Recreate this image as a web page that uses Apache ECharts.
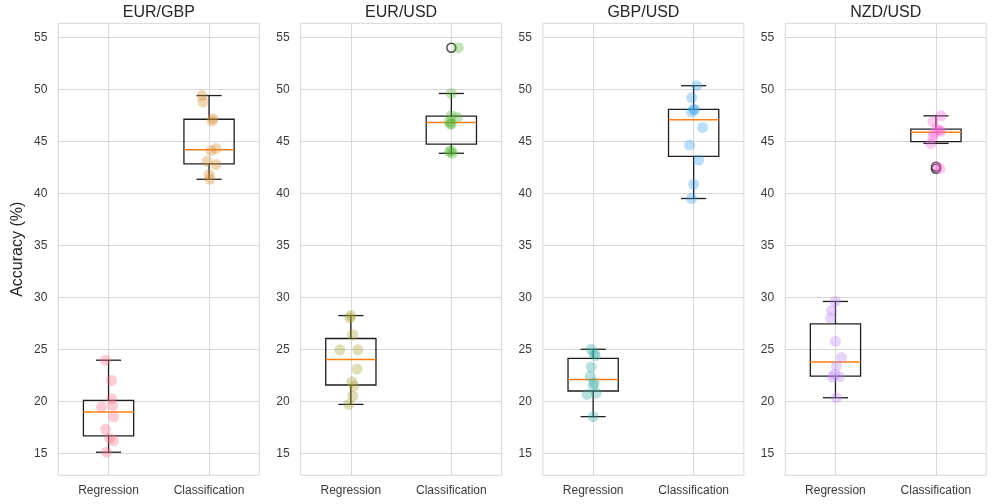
<!DOCTYPE html>
<html>
<head>
<meta charset="utf-8">
<script src="https://cdn.jsdelivr.net/npm/echarts@6/dist/echarts.min.js"></script>
<style>
  html, body { margin: 0; padding: 0; background: #ffffff; }
  #chart { width: 992px; height: 504px; }
</style>
</head>
<body>
<div id="chart"></div>
<script>
// Currency pairs (one panel each) and the two modelling approaches
const pairs = ['EUR/GBP', 'EUR/USD', 'GBP/USD', 'NZD/USD'];
const methods = ['Regression', 'Classification'];
const yTicks = [15, 20, 25, 30, 35, 40, 45, 50, 55];

// Per-fold directional accuracy (%)
const eurgbpRegression     = [15.1, 16.2, 16.45, 17.3, 18.5, 19.45, 19.6, 20.25, 22.0, 23.95];
const eurgbpClassification = [41.35, 41.8, 42.76, 43.08, 44.1, 44.3, 46.95, 47.18, 48.78, 49.4];
const eurusdRegression     = [19.7, 20.5, 21.46, 21.88, 23.1, 24.95, 24.95, 26.4, 28.0, 28.24];
const eurusdClassification = [43.85, 44.0, 44.1, 46.65, 46.7, 46.9, 47.3, 47.46, 49.6, 54.0];
const gbpusdRegression     = [18.52, 20.66, 20.8, 21.55, 21.78, 22.42, 23.3, 24.4, 24.6, 25.0];
const gbpusdClassification = [39.5, 40.87, 43.2, 44.64, 46.34, 47.8, 48.02, 48.1, 49.2, 50.35];
const nzdusdRegression     = [20.34, 22.3, 22.36, 22.58, 23.37, 24.2, 25.77, 28.0, 28.72, 29.6];
const nzdusdClassification = [42.35, 42.56, 44.8, 45.45, 45.76, 45.96, 46.05, 46.21, 46.9, 47.45];

// Horizontal strip-plot jitter of each fold's point
const eurgbpRegressionJitter     = [-0.02, 0.05, 0.01, -0.03, 0.05, -0.07, 0.04, 0.03, 0.03, -0.03];
const eurgbpClassificationJitter = [0.01, 0.0, 0.07, -0.02, 0.02, 0.07, 0.03, 0.04, -0.06, -0.07];
const eurusdRegressionJitter     = [-0.02, 0.02, 0.03, 0.01, 0.06, -0.11, 0.07, 0.02, -0.01, 0.0];
const eurusdClassificationJitter = [0.01, -0.02, 0.0, -0.01, 0.0, -0.02, 0.06, 0.0, 0.0, 0.07];
const gbpusdRegressionJitter     = [0.0, -0.06, 0.03, 0.0, 0.01, -0.03, -0.02, 0.02, 0.01, -0.02];
const gbpusdClassificationJitter = [-0.02, 0.0, 0.05, -0.04, 0.09, -0.02, 0.01, 0.0, -0.02, 0.03];
const nzdusdRegressionJitter     = [0.01, -0.03, 0.04, -0.01, 0.01, 0.06, 0.0, -0.05, -0.04, 0.0];
const nzdusdClassificationJitter = [0.04, 0.01, -0.05, -0.03, -0.02, 0.05, 0.03, 0.01, -0.03, 0.05];

const panelValues = [
  [eurgbpRegression, eurgbpClassification],
  [eurusdRegression, eurusdClassification],
  [gbpusdRegression, gbpusdClassification],
  [nzdusdRegression, nzdusdClassification]
];
const panelJitter = [
  [eurgbpRegressionJitter, eurgbpClassificationJitter],
  [eurusdRegressionJitter, eurusdClassificationJitter],
  [gbpusdRegressionJitter, gbpusdClassificationJitter],
  [nzdusdRegressionJitter, nzdusdClassificationJitter]
];

// husl palette, one hue per (pair, method)
const palette = ['#f77189', '#d58c32', '#a4a031', '#50b131', '#36ada4', '#3ba3ec', '#bb83f4', '#f564d4'];

// Linear-interpolated quantile on a sorted array
function quantile(s, p) {
  const h = (s.length - 1) * p;
  const i = Math.floor(h);
  const next = i + 1 < s.length ? s[i + 1] : s[i];
  return s[i] + (h - i) * (next - s[i]);
}

// Tukey box statistics: whiskers reach the furthest point within 1.5 IQR
function boxStats(values) {
  const s = values.slice().sort((a, b) => a - b);
  const q1 = quantile(s, 0.25), med = quantile(s, 0.5), q3 = quantile(s, 0.75);
  const iqr = q3 - q1;
  const loFence = q1 - 1.5 * iqr, hiFence = q3 + 1.5 * iqr;
  const inside = s.filter(v => v >= loFence && v <= hiFence);
  return {
    box: [inside[0], q1, med, q3, inside[inside.length - 1]],
    outliers: s.filter(v => v < loFence || v > hiFence)
  };
}

const FONT = '"Liberation Sans", Arial, sans-serif';
const TEXT = '#262626';
const TICK_TEXT = '#3a3a3a';
const GRIDLINE = '#d8d8d8';
const panelLeft = [58.3, 300.6, 542.9, 785.2];
const panelWidth = 201;
const panelTop = 23.3;
const panelHeight = 452;

function renderBox(params, api) {
  const x = api.value(0);
  const lw = api.value(1), q1 = api.value(2), md = api.value(3), q3 = api.value(4), hw = api.value(5);
  const tl = api.coord([x - 0.25, q3]);
  const br = api.coord([x + 0.25, q1]);
  const cx = api.coord([x, md])[0];
  const capL = api.coord([x - 0.125, lw])[0];
  const capR = api.coord([x + 0.125, lw])[0];
  const yLw = api.coord([x, lw])[1];
  const yHw = api.coord([x, hw])[1];
  const yMd = api.coord([x, md])[1];
  const edge = { stroke: '#1e1e1e', lineWidth: 1.3, fill: null };
  return {
    type: 'group',
    children: [
      { type: 'line', shape: { x1: cx, y1: yHw, x2: cx, y2: tl[1] }, style: edge },
      { type: 'line', shape: { x1: cx, y1: br[1], x2: cx, y2: yLw }, style: edge },
      { type: 'line', shape: { x1: capL, y1: yHw, x2: capR, y2: yHw }, style: edge },
      { type: 'line', shape: { x1: capL, y1: yLw, x2: capR, y2: yLw }, style: edge },
      { type: 'rect', shape: { x: tl[0], y: tl[1], width: br[0] - tl[0], height: br[1] - tl[1] }, style: edge },
      { type: 'line', shape: { x1: tl[0], y1: yMd, x2: br[0], y2: yMd }, style: { stroke: '#ff7f0e', lineWidth: 1.5 } }
    ]
  };
}

const grid = [], xAxis = [], yAxis = [], title = [], series = [];

pairs.forEach((pair, p) => {
  grid.push({
    left: panelLeft[p], top: panelTop, width: panelWidth, height: panelHeight,
    show: true, borderColor: GRIDLINE, borderWidth: 1, backgroundColor: '#ffffff'
  });
  title.push({
    text: pair,
    left: panelLeft[p] + panelWidth / 2,
    top: 5,
    textAlign: 'center',
    padding: 0,
    textStyle: { fontFamily: FONT, fontSize: 16, fontWeight: 'normal', color: TEXT, lineHeight: 16 }
  });
  xAxis.push({
    gridIndex: p, type: 'value', min: 0.5, max: 2.5,
    axisLine: { show: false },
    axisTick: { show: false, customValues: [1, 2] },
    axisLabel: {
      customValues: [1, 2], margin: 9,
      formatter: v => methods[Math.round(v) - 1],
      fontFamily: FONT, fontSize: 12, color: TICK_TEXT
    },
    splitLine: { show: true, lineStyle: { color: GRIDLINE, width: 1 } }
  });
  yAxis.push({
    gridIndex: p, type: 'value', min: 12.88, max: 56.35,
    name: p === 0 ? 'Accuracy (%)' : '',
    nameLocation: 'middle', nameGap: 33,
    nameTextStyle: { fontFamily: FONT, fontSize: 16, color: TEXT },
    axisLine: { show: false },
    axisTick: { show: false, customValues: yTicks },
    axisLabel: { customValues: yTicks, margin: 11, fontFamily: FONT, fontSize: 12, color: TICK_TEXT },
    splitLine: { show: true, lineStyle: { color: GRIDLINE, width: 1 } }
  });

  const boxes = [], outliers = [];
  panelValues[p].forEach((vals, m) => {
    const st = boxStats(vals);
    boxes.push([m + 1].concat(st.box));
    st.outliers.forEach(v => outliers.push([m + 1, v]));
  });

  series.push({
    type: 'custom', xAxisIndex: p, yAxisIndex: p,
    renderItem: renderBox,
    encode: { x: 0, y: [1, 2, 3, 4, 5] },
    data: boxes, z: 2, silent: true
  });
  series.push({
    type: 'scatter', xAxisIndex: p, yAxisIndex: p,
    data: outliers, symbol: 'circle', symbolSize: 9,
    itemStyle: { color: 'rgba(0,0,0,0)', borderColor: '#1e1e1e', borderWidth: 1.5 },
    z: 3, silent: true
  });
  panelValues[p].forEach((vals, m) => {
    const jit = panelJitter[p][m];
    series.push({
      type: 'scatter', xAxisIndex: p, yAxisIndex: p,
      data: vals.map((v, k) => [m + 1 + jit[k], v]),
      symbol: 'circle', symbolSize: 11,
      itemStyle: { color: palette[p * 2 + m], opacity: 0.35 },
      z: 4, silent: true
    });
  });
});

const chart = echarts.init(document.getElementById('chart'), null, { renderer: 'canvas' });
chart.setOption({
  animation: false,
  backgroundColor: '#ffffff',
  textStyle: { fontFamily: FONT },
  title, grid, xAxis, yAxis, series
});
</script>
</body>
</html>
